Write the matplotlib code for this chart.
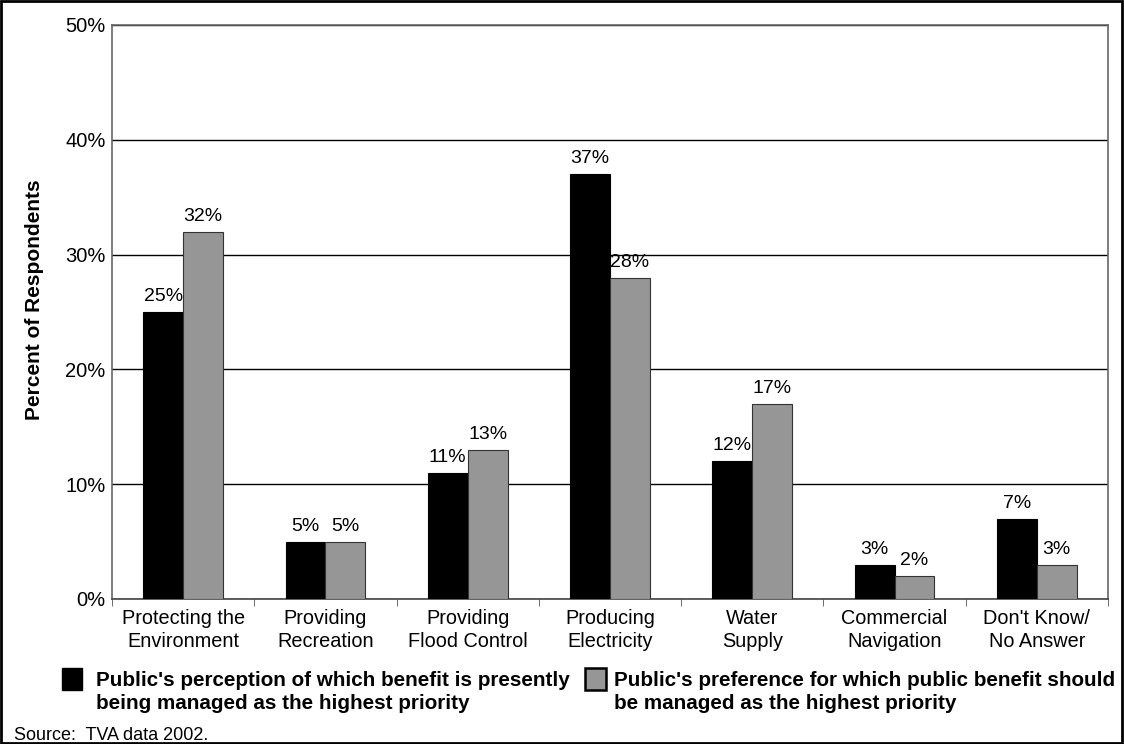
import matplotlib
matplotlib.use("Agg")
import matplotlib.pyplot as plt
from matplotlib.patches import Rectangle
import numpy as np

plt.rcParams['font.family'] = ['Liberation Sans', 'DejaVu Sans']

categories = ["Protecting the\nEnvironment", "Providing\nRecreation", "Providing\nFlood Control",
              "Producing\nElectricity", "Water\nSupply", "Commercial\nNavigation", "Don't Know/\nNo Answer"]
perception = [25, 5, 11, 37, 12, 3, 7]
preference = [32, 5, 13, 28, 17, 2, 3]
yticks = [0, 10, 20, 30, 40, 50]
ytick_labels = ["0%", "10%", "20%", "30%", "40%", "50%"]
legend_labels = ["Public's perception of which benefit is presently\nbeing managed as the highest priority",
                 "Public's preference for which public benefit should\nbe managed as the highest priority"]
source = "Source:  TVA data 2002."

W, H = 1124, 744
fig = plt.figure(figsize=(W/100, H/100), dpi=100)
ax = fig.add_axes([112/W, 1-599/H, (1108-112)/W, (599-25)/H])

x = np.arange(len(categories))
bw = 0.28
ax.bar(x - bw/2, perception, bw, color="black", edgecolor="black", linewidth=0.8, zorder=3)
ax.bar(x + bw/2, preference, bw, color="#969696", edgecolor="#333333", linewidth=0.8, zorder=3)
for i in range(len(categories)):
    ax.text(x[i] - bw/2, perception[i] + 0.6, f"{perception[i]}%", ha="center", va="bottom", fontsize=14)
    ax.text(x[i] + bw/2, preference[i] + 0.6, f"{preference[i]}%", ha="center", va="bottom", fontsize=14)

ax.set_xlim(-0.5, len(categories) - 0.5)
ax.set_ylim(0, 50)
ax.set_yticks(yticks)
ax.set_yticklabels(ytick_labels, fontsize=14.5)
ax.yaxis.grid(True, color="black", linewidth=1, zorder=0)
ax.tick_params(axis='y', length=0, pad=4.5)
ax.set_xticks(x)
ax.set_xticklabels(categories, fontsize=14.3, linespacing=1.22)
ax.set_xticks(np.arange(len(categories) + 1) - 0.5, minor=True)
ax.tick_params(axis='x', which='major', length=0, pad=7.5)
ax.tick_params(axis='x', which='minor', length=5, color="#555555")
for s in ax.spines.values():
    s.set_color("#666666")
    s.set_linewidth(1.2)
ax.spines['bottom'].set_color("#444444")
fig.text(35/W, 1-300/H, "Percent of Respondents", fontsize=15, fontweight="bold",
         rotation=90, ha="center", va="center")

# legend
fig.patches.append(Rectangle((62/W, 1-690/H), 20/W, 22/H, transform=fig.transFigure,
                             facecolor="black", edgecolor="black", linewidth=1))
fig.text(96/W, 1-692/H, legend_labels[0], fontsize=14.9, fontweight="bold", va="center", ha="left",
         linespacing=1.24)
fig.patches.append(Rectangle((585/W, 1-690/H), 21/W, 22/H, transform=fig.transFigure,
                             facecolor="#969696", edgecolor="black", linewidth=1.8))
fig.text(614/W, 1-692/H, legend_labels[1], fontsize=14.9, fontweight="bold", va="center", ha="left",
         linespacing=1.24)
fig.text(14/W, 1-736/H, source, fontsize=13, va="center", ha="left")

fig.patches.append(Rectangle((0.001, 0.001), 0.997, 0.997, transform=fig.transFigure,
                             facecolor="none", edgecolor="black", linewidth=2))

fig.savefig("out.png", dpi=100, facecolor="white")
